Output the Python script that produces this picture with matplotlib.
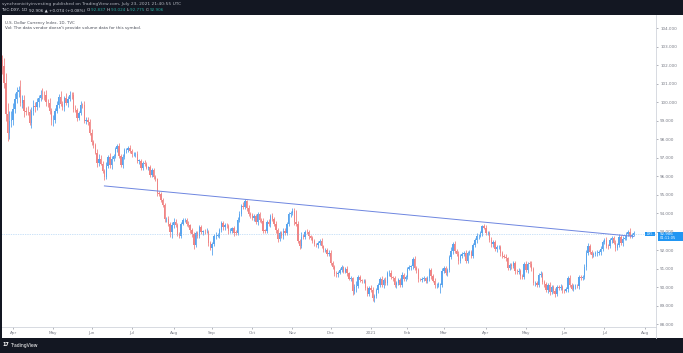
import matplotlib
matplotlib.use("Agg")
import matplotlib.pyplot as plt
from matplotlib.lines import Line2D
from matplotlib.patches import Rectangle
import numpy as np
import pandas as pd

# ---------------- DATA ----------------
# daily DXY bars from 2020-03-24 to 2021-07-23 (no bar on Dec 25 and Jan 1)
first_open = 102.30

closes = [
    101.95, 101.06, 99.36, 98.35, 98.98, 99.05,
    99.62, 100.18, 100.57, 100.68, 99.96, 100.12, 99.53, 99.50, 99.46, 98.87, 99.53,
    99.81, 99.75, 100.00, 100.21, 100.40, 100.38, 100.37, 100.00, 99.98, 99.55, 99.02,
    99.07, 99.52, 99.87, 100.30, 99.89, 99.75, 100.23, 99.95, 100.19, 100.40, 100.38,
    99.63, 99.59, 99.15, 99.40, 99.86, 99.83, 99.01, 99.07, 98.92, 98.34,
    97.83, 97.68, 97.28, 96.72, 96.94, 96.69, 96.29, 95.98, 96.55, 97.02, 96.61,
    96.96, 97.11, 97.45, 97.64, 97.10, 96.62, 97.02, 97.40, 97.43, 97.51, 97.39,
    97.18, 97.18, 97.21, 96.84, 96.84, 96.45, 96.73, 96.64, 96.47, 96.48, 96.07, 96.34,
    95.95, 95.83, 95.10, 95.02, 94.72, 94.43, 93.67, 93.71, 93.43, 92.98, 93.35,
    93.52, 93.37, 92.86, 92.77, 93.43, 93.62, 93.63, 93.44, 93.35, 93.08, 92.87,
    92.27, 92.92, 92.79, 93.24, 93.00, 93.01, 92.99, 93.00, 92.37, 92.14,
    92.35, 92.75, 92.80, 92.80, 93.08, 93.45, 93.24, 93.35, 93.33, 93.05, 93.06,
    93.18, 92.95, 92.93, 93.66, 93.98, 94.42, 94.34, 94.64, 94.28, 93.94, 93.89,
    93.74, 93.86, 93.51, 93.94, 93.64, 93.60, 93.06, 93.05, 93.52, 93.40, 93.87,
    93.68, 93.43, 93.08, 92.61, 92.94, 92.76, 93.06, 92.93, 93.44, 93.94, 94.04,
    94.11, 93.52, 93.41, 92.51, 92.23, 92.74, 92.73, 93.00, 92.97, 92.75, 92.64,
    92.50, 92.32, 92.30, 92.39, 92.52, 92.23, 91.99, 92.00, 91.79, 91.87,
    91.32, 91.11, 90.71, 90.70, 90.80, 90.93, 91.09, 90.85, 90.98, 90.75, 90.47,
    90.48, 89.80, 90.02, 90.07, 90.56, 90.38, 90.32, 90.34, 89.98, 89.66, 89.94,
    89.88, 89.43, 89.53, 89.83, 90.10, 90.46, 90.11, 90.38, 90.24, 90.77,
    90.80, 90.53, 90.48, 90.12, 90.23, 90.38, 90.14, 90.65, 90.44, 90.58,
    91.01, 91.11, 91.13, 91.53, 91.02, 90.93, 90.43, 90.42, 90.43, 90.48,
    90.35, 90.48, 90.94, 90.61, 90.36, 90.10, 90.14, 90.14, 90.15, 90.88,
    91.02, 90.78, 90.92, 91.64, 91.97, 92.34, 91.97, 91.82, 91.41, 91.68, 91.78, 91.85,
    91.44, 91.86, 91.90, 91.71, 92.28, 92.54, 92.78, 92.80, 92.91, 93.29, 93.23,
    92.93, 92.95, 92.56, 92.32, 92.44, 92.05, 92.16, 92.16, 91.84, 91.69, 91.66,
    91.56, 91.06, 91.22, 91.13, 91.32, 90.86, 90.84, 90.90, 90.61, 90.57, 91.28,
    90.92, 91.28, 91.26, 90.98, 90.22, 90.23, 90.13, 90.68, 90.73, 90.31, 90.17,
    89.83, 90.12, 89.76, 90.02, 89.82, 89.65, 90.00, 89.97, 90.03, 89.83,
    89.82, 89.91, 90.52, 90.13, 89.93, 90.07, 90.07, 90.05, 90.57, 90.52, 90.54,
    91.11, 91.88, 92.23, 91.92, 91.76, 91.80, 91.83, 91.84, 91.89, 92.09, 92.44,
    92.57, 92.23, 92.22, 92.54, 92.67, 92.42, 92.13, 92.28, 92.74,
    92.39, 92.63, 92.69, 92.88, 92.99, 92.79, 92.83, 92.91,
]

# distance from body top to high / body bottom to low
upper_wicks = [
    .25, .45, .50, .60, .55, .50,
    .35, .30, .25, .22, .50, .30, .25, .20, .30, .18, .22, .30, .20, .25, .20, .28, .35, .25, .30, .20, .25, .15,
    .25, .15, .20, .15, .30, .20, .12, .25, .15, .20, .15, .20, .25, .12, .15, .20, .10, .25, .15, .12, .20,
    .20, .15, .12, .18, .25, .20, .15, .10, .20, .15, .25, .12, .10, .15, .10, .15, .10, .18, .12, .10, .15, .20,
    .10, .15, .08, .15, .10, .12, .10, .15, .12, .08, .15, .10, .12, .10, .08, .12, .15, .10, .12, .10, .15, .12, .20,
    .20, .15, .10, .15, .10, .15, .12, .10, .15, .08, .12, .10, .15, .10, .12, .15, .10, .12, .20, .10, .12,
    .12, .15, .20, .15, .10, .12, .15, .10, .12, .10, .15, .10, .12, .15, .15, .12, .10, .18, .12, .10, .15, .12,
    .15, .12, .10, .12, .15, .10, .12, .10, .12, .15, .10, .12, .10, .15, .12, .10, .08, .12, .15, .10, .12, .10,
    .20, .15, .65, .15, .12, .25, .12, .10, .15, .12, .10, .12, .10, .08, .12, .10, .12, .08, .10, .12, .15,
    .12, .10, .12, .15, .10, .12, .10, .08, .12, .15, .10, .12, .08, .15, .25, .12, .10, .08, .10, .12, .10, .15,
    .20, .12, .10, .12, .15, .10, .15, .12, .15, .10, .15, .12, .10, .15, .12, .10, .12, .15, .12, .10,
    .10, .12, .10, .10, .15, .12, .10, .08, .10, .12, .10, .15, .10, .12, .10, .12, .10, .12, .10, .15,
    .12, .15, .10, .12, .20, .12, .15, .10, .12, .10, .12, .10, .15, .12, .10, .12, .10, .12, .15, .10, .15, .10, .12,
    .12, .10, .12, .15, .10, .12, .15, .10, .12, .10, .12, .15, .10, .12, .10, .12, .10, .15, .12, .10, .12, .10,
    .12, .10, .12, .15, .12, .10, .12, .10, .15, .12, .10, .12, .10, .15, .12, .10, .12, .10, .12, .15, .10,
    .10, .12, .10, .15, .12, .10, .12, .10, .12, .10, .12, .15, .12, .15, .10, .12, .10, .12, .15, .10, .12, .10,
    .12, .15, .10, .12, .10, .12, .15, .10, .12, .10, .15, .12, .10, .12, .20, .10, .12,
]
lower_wicks = [
    .40, .30, .35, .45, .35, .30,
    .25, .20, .20, .30, .15, .25, .30, .20, .15, .10, .25, .20, .30, .18, .25, .15, .20, .25, .20, .22, .18, .25,
    .30, .18, .12, .20, .10, .15, .20, .10, .18, .12, .20, .15, .10, .15, .12, .10, .15, .12, .20, .15, .10,
    .12, .15, .10, .20, .15, .10, .12, .20, .15, .10, .15, .20, .12, .10, .15, .12, .10, .15, .10, .12, .10, .15,
    .15, .10, .12, .10, .15, .10, .12, .08, .10, .15, .10, .12, .08, .10, .15, .10, .12, .10, .15, .12, .10, .25, .30,
    .15, .12, .10, .10, .12, .08, .10, .15, .10, .12, .15, .20, .10, .12, .10, .12, .15, .10, .08, .15, .10,
    .40, .10, .15, .10, .12, .10, .15, .12, .10, .15, .12, .10, .15, .12, .10, .12, .15, .10, .12, .15, .10, .12,
    .12, .15, .10, .12, .10, .15, .12, .10, .12, .10, .15, .12, .10, .12, .15, .10, .12, .15, .10, .12, .15, .12,
    .12, .15, .10, .12, .15, .10, .12, .10, .08, .12, .10, .12, .08, .10, .15, .12, .10, .08, .10, .12, .10,
    .10, .12, .10, .15, .12, .10, .12, .10, .08, .12, .10, .12, .20, .15, .30, .10, .12, .10, .08, .10, .15, .12,
    .12, .15, .25, .10, .12, .10, .12, .15, .10, .12, .15, .10, .12, .10, .15, .12, .10, .12, .10, .12,
    .12, .10, .15, .12, .10, .15, .12, .10, .15, .10, .12, .10, .12, .15, .10, .12, .15, .10, .45, .12,
    .10, .12, .15, .10, .12, .15, .10, .12, .15, .10, .12, .10, .15, .10, .12, .10, .12, .10, .12, .15, .10, .12, .10,
    .10, .12, .10, .12, .15, .10, .12, .10, .15, .12, .10, .12, .15, .10, .12, .10, .15, .12, .10, .15, .12, .10,
    .10, .12, .15, .10, .12, .15, .10, .12, .10, .12, .15, .10, .12, .15, .10, .12, .15, .10, .12, .10, .12,
    .12, .10, .15, .12, .10, .12, .15, .10, .12, .10, .12, .10, .15, .12, .10, .15, .12, .10, .12, .10, .15, .12,
    .10, .12, .15, .10, .12, .10, .15, .12, .10, .12, .15, .10, .12, .10, .15, .12, .07,
]

last_price = 92.906
price_ticks = [88, 89, 90, 91, 92, 93, 94, 95, 96, 97, 98, 99, 100, 101, 102, 103, 104]

# trend line drawn on the chart (date, price)
trend_dates = ["2020-06-10", "2021-07-23"]
trend_prices = [95.48, 92.75]

header_1 = "synchronicityinvesting published on TradingView.com, July 23, 2021 21:40:55 UTC"
header_2 = [("TVC:DXY, 1D ", "#d1d4dc"), ("92.906 \u25b2 +0.074 (+0.08%) ", "#d1d4dc"),
            ("O:", "#d1d4dc"), ("92.837 ", "#26a69a"), ("H:", "#d1d4dc"), ("93.024 ", "#26a69a"),
            ("L:", "#d1d4dc"), ("92.775 ", "#26a69a"), ("C:", "#d1d4dc"), ("92.906", "#26a69a")]
legend_1 = "U.S. Dollar Currency Index, 1D, TVC"
legend_2 = "Vol: The data vendor doesn't provide volume data for this symbol."

# ---------------- PREP ----------------
days = pd.bdate_range("2020-03-24", "2021-08-06")
days = days[~days.isin(pd.to_datetime(["2020-12-25", "2021-01-01"]))]
n = len(closes)
idx = np.arange(n)
c = np.array(closes)
o = np.concatenate([[first_open], c[:-1]])
hi = np.maximum(o, c) + np.array(upper_wicks)
lo = np.minimum(o, c) - np.array(lower_wicks)
up = c >= o
colors = np.where(up, "#5aa5ee", "#f08585")

tick_pos, tick_lab = [], []
for i in range(1, len(days)):
    if days[i].month != days[i - 1].month:
        tick_pos.append(i)
        tick_lab.append(str(days[i].year) if days[i].month == 1 else days[i].strftime("%b"))

trend_x = [days.get_loc(pd.Timestamp(d)) for d in trend_dates]

# ---------------- FIGURE ----------------
W, H = 683, 353
fig = plt.figure(figsize=(W / 100, H / 100), dpi=100, facecolor="#131722")

def fx(x):
    return x / W

def fy(y):
    return 1 - y / H

# white chart panel (price scale and date row included)
bg = fig.add_axes([fx(1.5), fy(338), fx(683 - 1.5), (338 - 15) / H], facecolor="white")
bg.set_xticks([])
bg.set_yticks([])
for s in bg.spines.values():
    s.set_visible(False)
bg.set_zorder(0)

ax = fig.add_axes([fx(1.5), fy(327.3), fx(656 - 1.5), (327.3 - 15) / H], facecolor="none")
ax.set_zorder(1)

ax.vlines(idx, lo, hi, colors=colors, linewidth=0.6)
body = np.where(np.abs(c - o) < 0.02, 0.02, c - o)
ax.bar(idx, body, bottom=o, width=0.75, color=colors, linewidth=0)

ax.axhline(last_price, color="#7fb8ee", lw=0.5, ls=(0, (1, 1.5)), alpha=0.8)
ax.plot(trend_x, trend_prices, color="#6e86e0", lw=0.7)

ax.set_xlim(-0.38, 358.25)
ax.set_ylim(104 - (327.3 - 28.3) / 18.5, 104 - (15 - 28.3) / 18.5)

for s in ["top", "left"]:
    ax.spines[s].set_visible(False)
for s in ["right", "bottom"]:
    ax.spines[s].set_color("#d1d4dc")
    ax.spines[s].set_linewidth(0.6)

ax.yaxis.tick_right()
ax.set_yticks(price_ticks)
ax.set_yticklabels([f"{p:.3f}" for p in price_ticks])
ax.set_xticks(tick_pos)
ax.set_xticklabels(tick_lab)
ax.tick_params(axis="both", labelsize=3, colors="#787b86", length=1.5, width=0.4, pad=1.5)

fig.add_artist(Line2D([fx(656), fx(656)], [fy(327.3), fy(338)], color="#d1d4dc", lw=0.6))

# header / legend
fig.text(fx(1.5), fy(3.5), header_1, color="#b2b5be", fontsize=3.2, va="center")
r = fig.canvas.get_renderer()
x = 1.5
for s, col in header_2:
    t = fig.text(fx(x), fy(10), s, color=col, fontsize=3.0, va="center")
    x += t.get_window_extent(renderer=r).width

fig.text(fx(5), fy(23.3), legend_1, color="#4a4e59", fontsize=2.8, va="center")
fig.text(fx(5), fy(28.5), legend_2, color="#4a4e59", fontsize=2.95, va="center")

# last price labels
fig.add_artist(Rectangle((fx(645), fy(236)), fx(10), 4.3 / H, color="#2196f3", lw=0))
fig.text(fx(650), fy(233.8), "DXY", color="white", fontsize=2.2, ha="center", va="center")
fig.add_artist(Rectangle((fx(657.5), fy(240.6)), fx(26), 9 / H, color="#2196f3", lw=0))
fig.text(fx(660), fy(233.6), "92.906", color="white", fontsize=2.9, va="center")
fig.text(fx(660), fy(238.3), "01:11:05", color="white", fontsize=2.6, va="center")

# footer
fig.text(fx(2), fy(345), "17", color="white", fontsize=3.5, fontweight="bold", va="center")
fig.text(fx(10), fy(345), "TradingView", color="white", fontsize=3.3, va="center")

fig.savefig("out.png", dpi=100, facecolor=fig.get_facecolor())
